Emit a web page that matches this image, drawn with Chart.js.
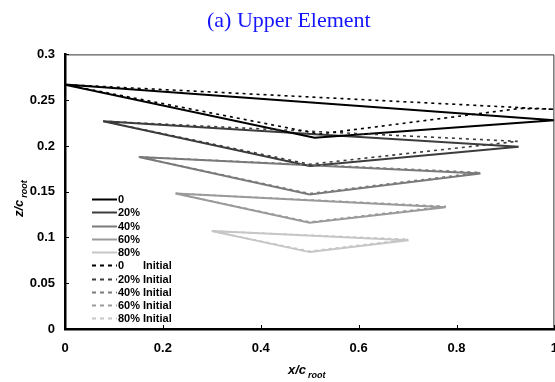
<!DOCTYPE html>
<html>
<head>
<meta charset="utf-8">
<script src="https://cdn.jsdelivr.net/npm/chart.js@4.4.1/dist/chart.umd.min.js"></script>
<style>
  body { margin: 0; background: #fff; overflow: hidden; }
  #box { width: 570px; height: 382px; }
</style>
</head>
<body>
<div id="box"><canvas id="wing-chart" width="570" height="382"></canvas></div>
<script>
// span stations and their colours
const labels = ['0', '20%', '40%', '60%', '80%'];
const colors = ['#000000', '#3c3c3c', '#7a7a7a', '#9a9a9a', '#c6c6c6'];

// deformed element outlines (leading edge -> lower point -> trailing edge -> leading edge)
const finalX = [
  [0, 0.51, 1.0, 0],
  [0.078, 0.50, 0.927, 0.078],
  [0.151, 0.50, 0.849, 0.151],
  [0.226, 0.50, 0.778, 0.226],
  [0.30, 0.50, 0.702, 0.30]
];
const finalZ = [
  [0.267, 0.209, 0.228, 0.267],
  [0.227, 0.178, 0.199, 0.227],
  [0.188, 0.147, 0.170, 0.188],
  [0.148, 0.116, 0.133, 0.148],
  [0.107, 0.084, 0.097, 0.107]
];

// initial outlines
const initialX = [
  [0, 0.52, 0.93, 1.0, 0],
  [0.078, 0.50, 0.925, 0.078],
  [0.151, 0.50, 0.849, 0.151],
  [0.226, 0.50, 0.778, 0.226],
  [0.30, 0.50, 0.702, 0.30]
];
const initialZ = [
  [0.267, 0.213, 0.241, 0.240, 0.267],
  [0.227, 0.180, 0.205, 0.227],
  [0.188, 0.148, 0.171, 0.188],
  [0.148, 0.117, 0.134, 0.148],
  [0.107, 0.085, 0.098, 0.107]
];

const xTicks = [0, 0.2, 0.4, 0.6, 0.8, 1];
const yTicks = [0, 0.05, 0.1, 0.15, 0.2, 0.25, 0.3];

function toPoints(xs, zs) {
  return xs.map((x, i) => ({ x: x, y: zs[i] }));
}

const datasets = [];
for (let i = 0; i < labels.length; i++) {
  datasets.push({
    label: labels[i],
    data: toPoints(finalX[i], finalZ[i]),
    borderColor: colors[i],
    borderWidth: 2,
    showLine: true,
    pointRadius: 0,
    order: 1
  });
}
for (let i = 0; i < labels.length; i++) {
  datasets.push({
    label: labels[i] + ' Initial',
    data: toPoints(initialX[i], initialZ[i]),
    borderColor: colors[i],
    borderWidth: 1.6,
    borderDash: [3, 4],
    showLine: true,
    pointRadius: 0,
    order: 0
  });
}

// frame, inner ticks, axis titles with subscripts and the legend
const extras = {
  id: 'extras',
  afterDraw(chart) {
    const ctx = chart.ctx;
    const area = chart.chartArea;
    const xs = chart.scales.x;
    const ys = chart.scales.y;
    ctx.save();

    // thin top / right frame
    ctx.strokeStyle = '#333';
    ctx.lineWidth = 1;
    ctx.beginPath();
    ctx.moveTo(area.left, area.top + 0.5);
    ctx.lineTo(area.right - 0.5, area.top + 0.5);
    ctx.lineTo(area.right - 0.5, area.bottom);
    ctx.stroke();

    // tick marks pointing inside
    ctx.strokeStyle = '#000';
    ctx.beginPath();
    xTicks.forEach(v => {
      const px = Math.round(xs.getPixelForValue(v)) + 0.5;
      ctx.moveTo(px, area.bottom);
      ctx.lineTo(px, area.bottom - 4);
    });
    yTicks.forEach(v => {
      const py = Math.round(ys.getPixelForValue(v)) + 0.5;
      ctx.moveTo(area.left, py);
      ctx.lineTo(area.left + 4, py);
    });
    ctx.stroke();

    // axis titles
    ctx.fillStyle = '#000';
    ctx.textBaseline = 'alphabetic';
    ctx.textAlign = 'left';
    ctx.font = 'italic bold 13px "Liberation Sans", Arial, sans-serif';
    let w = ctx.measureText('x/c').width;
    ctx.fillText('x/c', 288, 374);
    ctx.font = 'italic bold 9px "Liberation Sans", Arial, sans-serif';
    ctx.fillText('root', 288 + w + 2, 378);

    ctx.translate(23, 217);
    ctx.rotate(-Math.PI / 2);
    ctx.font = 'italic bold 13px "Liberation Sans", Arial, sans-serif';
    w = ctx.measureText('z/c').width;
    ctx.fillText('z/c', 0, 0);
    ctx.font = 'italic bold 9px "Liberation Sans", Arial, sans-serif';
    ctx.fillText('root', w + 2, 4);
    ctx.setTransform(1, 0, 0, 1, 0, 0);

    // legend
    ctx.font = 'bold 11px "Liberation Sans", Arial, sans-serif';
    ctx.textBaseline = 'middle';
    for (let i = 0; i < 10; i++) {
      const ds = chart.data.datasets[i];
      const y = Math.round(199 + i * 13.25) + 0.5;
      ctx.strokeStyle = ds.borderColor;
      ctx.lineWidth = 2;
      ctx.setLineDash(i < 5 ? [] : [4, 4]);
      ctx.beginPath();
      ctx.moveTo(92, y);
      ctx.lineTo(117, y);
      ctx.stroke();
      ctx.setLineDash([]);
      ctx.fillStyle = '#000';
      ctx.fillText(labels[i % 5], 118, y);
      if (i >= 5) ctx.fillText('Initial', 143, y);
    }
    ctx.restore();
  }
};

const tickFont = { family: '"Liberation Sans", Arial, sans-serif', size: 13, weight: 'bold' };

const ctx = document.getElementById('wing-chart').getContext('2d');
const wingChart = new Chart(ctx, {
  type: 'scatter',
  data: { datasets: datasets },
  options: {
    responsive: false,
    animation: false,
    devicePixelRatio: 1,
    layout: { padding: { top: 0, right: 0, bottom: 0, left: 0 } },
    plugins: {
      legend: { display: false },
      tooltip: { enabled: false },
      title: {
        display: true,
        text: '(a) Upper Element',
        color: '#1515ff',
        align: 'start',
        font: { family: '"Liberation Serif", "Times New Roman", serif', size: 22, weight: 'normal' },
        padding: { top: 8, bottom: 20 }
      }
    },
    scales: {
      x: {
        type: 'linear',
        min: 0,
        max: 1,
        afterFit: scale => { scale.height = 53; },
        afterBuildTicks: scale => { scale.ticks = xTicks.map(v => ({ value: v })); },
        ticks: { color: '#000', font: tickFont, padding: 12, maxRotation: 0,
                 callback: v => String(v) },
        grid: { display: true, drawOnChartArea: false, drawTicks: false },
        border: { color: '#000', width: 2.5 }
      },
      y: {
        type: 'linear',
        min: 0,
        max: 0.3,
        afterFit: scale => { scale.width = 65; },
        afterBuildTicks: scale => { scale.ticks = yTicks.map(v => ({ value: v })); },
        ticks: { color: '#000', font: tickFont, padding: 10,
                 callback: v => String(v) },
        grid: { display: true, drawOnChartArea: false, drawTicks: false },
        border: { color: '#000', width: 2.5 }
      }
    }
  },
  plugins: [extras,
    {
      // centre the title over the visible 555px window rather than the wider canvas
      id: 'titleShift',
      beforeDraw(chart) {
        const t = chart.titleBlock;
        if (t) { t.left = 207; t.right = 555; }
      }
    }]
});
</script>
</body>
</html>
